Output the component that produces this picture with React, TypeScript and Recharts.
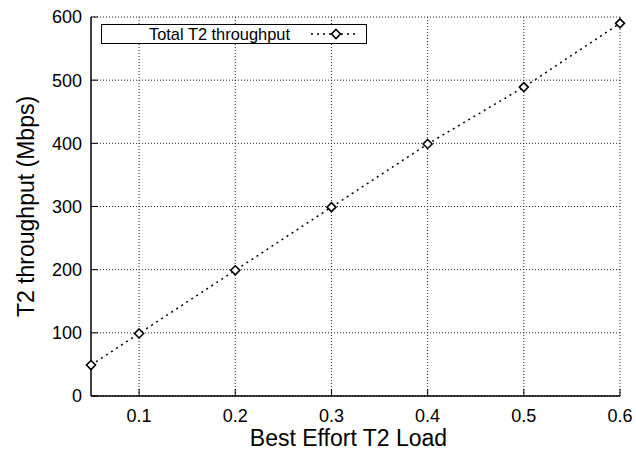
import React from 'react';
import {
  LineChart,
  Line,
  XAxis,
  YAxis,
  CartesianGrid,
  Legend,
} from 'recharts';

// Best-effort load vs. measured throughput
const loads = [0.05, 0.1, 0.2, 0.3, 0.4, 0.5, 0.6];
const throughput = [49, 99, 199, 299, 399, 489, 590];

const xTicks = [0.1, 0.2, 0.3, 0.4, 0.5, 0.6];
const yTicks = [0, 100, 200, 300, 400, 500, 600];

const SERIES_NAME = 'Total T2 throughput';
const FONT = '"Liberation Sans", Arial, Helvetica, sans-serif';

const data = loads.map((load, i) => ({ load, value: throughput[i] }));

// hollow diamond marker
const Diamond = (props: any) => {
  const { cx, cy } = props;
  if (cx == null || cy == null) return null;
  const r = 4.5;
  return (
    <polygon
      points={`${cx},${cy - r} ${cx + r},${cy} ${cx},${cy + r} ${cx - r},${cy}`}
      fill="#fff"
      stroke="#000"
      strokeWidth={1.6}
    />
  );
};

const LegendBox = () => (
  <svg width={268} height={21} style={{ display: 'block' }}>
    <rect x={0.5} y={0.5} width={265} height={19} fill="#fff" stroke="#000" strokeWidth={1} />
    <text x={48} y={15.5} fontSize={16.4} fontFamily={FONT} fill="#000">
      {SERIES_NAME}
    </text>
    <line
      x1={210}
      y1={10}
      x2={258}
      y2={10}
      stroke="#000"
      strokeWidth={1.5}
      strokeDasharray="2 4"
    />
    <Diamond cx={235} cy={10} />
  </svg>
);

const axisLine = { stroke: '#000', strokeWidth: 1.5 };
const tickStyle = { fill: '#000', fontSize: 18, fontFamily: FONT };
const titleStyle = { fill: '#000', fontSize: 23, fontFamily: FONT };

export default function App() {
  return (
    <div style={{ position: 'absolute', left: 0, top: 0, background: '#fff' }}>
      <LineChart
        width={636}
        height={455}
        data={data}
        margin={{ top: 17, right: 16, bottom: 0, left: 0 }}
      >
        <CartesianGrid
          stroke="#222"
          strokeDasharray="1 2"
          horizontalValues={yTicks}
          verticalValues={xTicks}
        />
        <XAxis
          dataKey="load"
          type="number"
          domain={[0.05, 0.6]}
          ticks={xTicks}
          height={59}
          axisLine={axisLine}
          tickLine={{ stroke: '#000' }}
          tickSize={-7}
          tickMargin={20}
          tick={tickStyle}
          label={{
            value: 'Best Effort T2 Load',
            position: 'insideBottom',
            offset: 9,
            dx: -7,
            style: titleStyle,
          }}
        />
        <XAxis
          xAxisId="top"
          dataKey="load"
          type="number"
          orientation="top"
          domain={[0.05, 0.6]}
          ticks={xTicks}
          height={0}
          axisLine={axisLine}
          tickLine={{ stroke: '#000' }}
          tickSize={-7}
          tickFormatter={() => ''}
        />
        <YAxis
          type="number"
          domain={[0, 600]}
          ticks={yTicks}
          width={91}
          axisLine={axisLine}
          tickLine={{ stroke: '#000' }}
          tickSize={-7}
          tickMargin={16}
          tick={tickStyle}
          label={{
            value: 'T2 throughput (Mbps)',
            position: 'center',
            angle: -90,
            dx: -20,
            style: { ...titleStyle, textAnchor: 'middle' },
          }}
        />
        <YAxis
          yAxisId="right"
          type="number"
          orientation="right"
          domain={[0, 600]}
          ticks={yTicks}
          width={0}
          axisLine={axisLine}
          tickLine={{ stroke: '#000' }}
          tickSize={-7}
          tickFormatter={() => ''}
        />
        <Legend
          layout="vertical"
          align="center"
          verticalAlign="middle"
          content={() => <LegendBox />}
          wrapperStyle={{ left: 101, top: 24, width: 268, height: 21 }}
        />
        <Line
          dataKey="value"
          name={SERIES_NAME}
          stroke="#000"
          strokeWidth={1.5}
          strokeDasharray="2 4"
          dot={<Diamond />}
          activeDot={false}
          isAnimationActive={false}
        />
      </LineChart>
    </div>
  );
}
